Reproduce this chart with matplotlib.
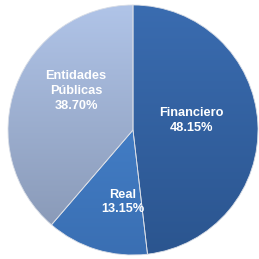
import numpy as np
import matplotlib
matplotlib.use("Agg")
from matplotlib import pyplot as plt
from matplotlib.colors import LinearSegmentedColormap

# Chart data
sectors = ["Financiero", "Real", "Entidades\nPúblicas"]
shares = [48.15, 13.15, 38.70]

# Colour per slice (top, bottom of gradient)
gradients = [("#3a6cb0", "#2b558f"), ("#4a8ad6", "#3a6fb3"), ("#b0c4e8", "#8595b2")]
labelPos = [(0.47, 0.076), (-0.08, -0.576), (-0.456, 0.312)]

plt.rcParams["font.family"] = ["Liberation Sans", "DejaVu Sans"]

figure = plt.figure(figsize=(2.59, 2.59), dpi=100)
axis = figure.add_axes([0, 0, 1, 1])
axis.axis("off")

wedges, _ = axis.pie(shares, startangle=90, counterclock=False, radius=1.0,
                     colors=[g[0] for g in gradients],
                     wedgeprops=dict(edgecolor="#d8dde6", linewidth=0.6))

# Fill each wedge with a vertical gradient
for wedge, (top, bottom) in zip(wedges, gradients):
    cmap = LinearSegmentedColormap.from_list("g", [bottom, top])
    grad = np.linspace(0, 1, 256).reshape(-1, 1)
    img = axis.imshow(grad, cmap=cmap, origin="lower", extent=(-1, 1, -1, 1),
                      aspect="auto", zorder=wedge.get_zorder() + 0.1)
    img.set_clip_path(wedge)
    wedge.set_zorder(wedge.get_zorder() + 0.2)
    wedge.set_facecolor("none")

for sector, share, (x, y) in zip(sectors, shares, labelPos):
    axis.text(x, y, "%s\n%.2f%%" % (sector, share), ha="center", va="center",
              color="white", fontsize=9.2, fontweight="bold", linespacing=1.3, zorder=5)

# Pie centre sits at (133, 130) px, radius 125 px
axis.set_xlim(-133 / 125, 126 / 125)
axis.set_ylim(-129 / 125, 130 / 125)
axis.set_aspect("auto")

figure.savefig("out.png", dpi=100, facecolor="white")
